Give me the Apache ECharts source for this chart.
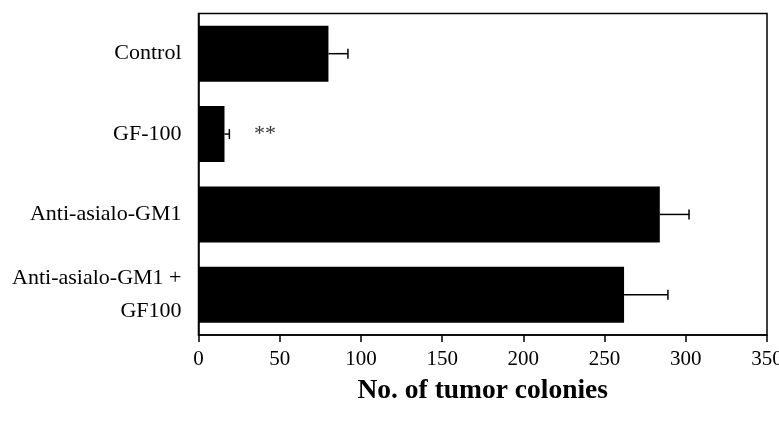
<!DOCTYPE html>
<html>
<head>
<meta charset="utf-8">
<script src="https://cdn.jsdelivr.net/npm/echarts@6/dist/echarts.min.js"></script>
<style>html,body{margin:0;padding:0;background:#fff}#c{width:779px;height:426px}</style>
</head>
<body>
<div id="c"></div>
<script>
var categories = ['Control', 'GF-100', 'Anti-asialo-GM1', 'Anti-asialo-GM1 +\nGF100'];
var values = [80, 16, 284, 262];
var errors = [12, 3, 18, 27];
var sigLabels = ['', '**', '', ''];
var sigX = 41;
var xTicks = [0, 50, 100, 150, 200, 250, 300, 350];

var font = 'Liberation Serif';
var chart = echarts.init(document.getElementById('c'), null, {renderer: 'canvas'});
var errData = categories.map(function (c, i) { return [i, values[i], values[i] + errors[i]]; });
var sigData = [];
categories.forEach(function (c, i) { if (sigLabels[i]) sigData.push({value: [sigX, i], label: sigLabels[i]}); });

chart.setOption({
  animation: false,
  grid: {left: 198.5, right: 12, top: 13.5, bottom: 91, show: true, borderColor: '#000', borderWidth: 1.5,
         containLabel: false, outerBoundsMode: 'none'},
  xAxis: {
    type: 'value', min: xTicks[0], max: xTicks[xTicks.length - 1], interval: 50,
    splitLine: {show: false},
    axisLine: {show: true, lineStyle: {color: '#000', width: 1.5}},
    axisTick: {show: true, length: 7, lineStyle: {color: '#000', width: 1.5}},
    axisLabel: {color: '#000', fontFamily: font, fontSize: 21, margin: 14, hideOverlap: false},
    name: 'No. of tumor colonies', nameLocation: 'middle', nameGap: 42,
    nameTextStyle: {color: '#000', fontFamily: font, fontSize: 27.5, fontWeight: 'bold'}
  },
  yAxis: {
    type: 'category', data: categories, inverse: true,
    axisLine: {show: true, lineStyle: {color: '#000', width: 1.5}},
    axisTick: {show: false},
    axisLabel: {color: '#000', fontFamily: font, fontSize: 22, margin: 17, align: 'right',
                verticalAlign: 'middle', lineHeight: 33, padding: [6, 0, 0, 0]}
  },
  series: [
    {
      type: 'bar', data: values, barWidth: 56,
      itemStyle: {color: '#000'}
    },
    {
      type: 'custom', data: errData, z: 3,
      renderItem: function (params, api) {
        var y = api.value(0);
        var s = api.coord([api.value(1), y]);
        var e = api.coord([api.value(2), y]);
        var h = 5;
        return {type: 'group', children: [
          {type: 'line', shape: {x1: s[0], y1: s[1], x2: e[0], y2: e[1]}, style: {stroke: '#000', lineWidth: 1.5}},
          {type: 'line', shape: {x1: e[0], y1: e[1] - h, x2: e[0], y2: e[1] + h}, style: {stroke: '#000', lineWidth: 1.5}}
        ]};
      },
      encode: {x: [1, 2], y: 0}
    },
    {
      type: 'scatter', symbolSize: 0,
      data: sigData.map(function (d) { return {value: d.value, label: {show: true, formatter: d.label}}; }),
      label: {show: true, position: 'inside', color: '#000', fontFamily: font, fontSize: 22, padding: [4, 0, 0, 0]}
    }
  ]
});
</script>
</body>
</html>
